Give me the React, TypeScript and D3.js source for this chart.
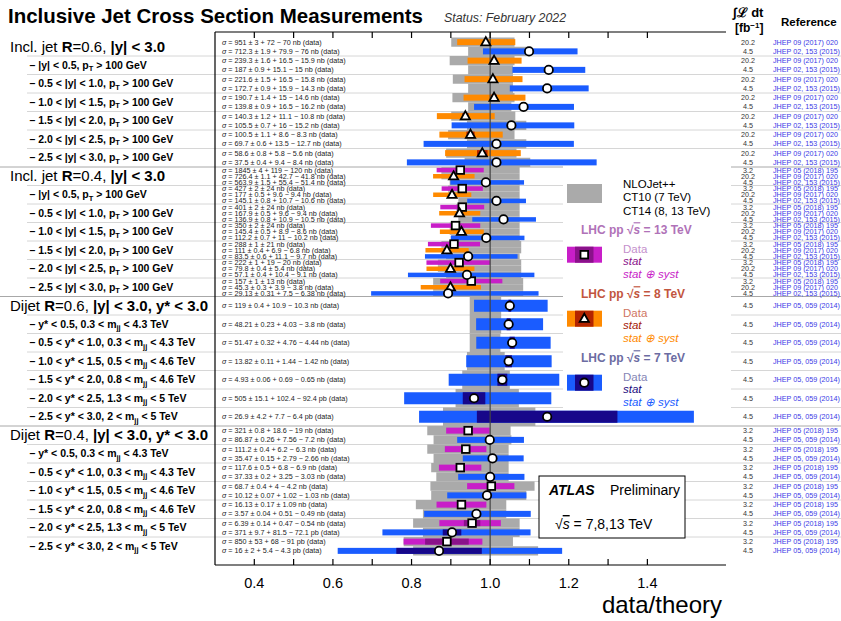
import React from 'react';
import * as d3 from 'd3';

// Each point: [data/theory, theory band low, theory band high, sigma, stat, syst up, syst down, unit]
type Point = [number, number, number, number, number, number, number, string];

const inclR06_8TeV: Point[] = [
  [0.989, 0.901, 1.062, 951, 3, 72, 70, 'nb'],
  [1.010, 0.897, 1.062, 239.3, 1.6, 16.5, 15.9, 'nb'],
  [1.007, 0.905, 1.058, 221.6, 1.5, 16.5, 15.8, 'nb'],
  [1.010, 0.904, 1.062, 190.7, 1.4, 15, 14.6, 'nb'],
  [0.937, 0.901, 1.064, 140.3, 1.2, 11.1, 10.8, 'nb'],
  [0.950, 0.893, 1.062, 100.5, 1.1, 8.6, 8.3, 'nb'],
  [0.980, 0.888, 1.067, 58.6, 0.8, 5.8, 5.6, 'nb'],
];
const inclR06_7TeV: Point[] = [
  [1.099, 0.944, 1.092, 712.3, 1.9, 79.9, 76, 'nb'],
  [1.149, 0.944, 1.058, 187, 0.9, 15.1, 15, 'nb'],
  [1.145, 0.944, 1.058, 172.7, 0.9, 15.9, 14.3, 'nb'],
  [1.085, 0.944, 1.054, 139.8, 0.9, 16.5, 16.2, 'nb'],
  [1.054, 0.941, 1.092, 105.5, 0.7, 16, 15.2, 'nb'],
  [1.016, 0.941, 1.092, 69.7, 0.6, 13.5, 12.7, 'nb'],
  [1.016, 0.935, 1.102, 37.5, 0.4, 9.4, 8.4, 'nb'],
];
const inclR04_13TeV: Point[] = [
  [0.924, 0.876, 1.075, 1845, 4, 119, 120, 'nb'],
  [0.929, 0.893, 1.075, 427, 2, 24, 24, 'nb'],
  [0.929, 0.914, 1.075, 401, 2, 24, 24, 'nb'],
  [0.912, 0.897, 1.075, 350, 2, 24, 24, 'nb'],
  [0.908, 0.876, 1.079, 288, 1, 21, 21, 'nb'],
  [0.921, 0.867, 1.079, 222, 1, 19, 20, 'nb'],
  [0.952, 0.855, 1.084, 157, 1, 13, 13, 'nb'],
];
const inclR04_8TeV: Point[] = [
  [0.907, 0.876, 1.075, 726.4, 1.1, 42.7, 41.8, 'nb'],
  [0.903, 0.893, 1.075, 177, 0.5, 9.6, 9.4, 'nb'],
  [0.922, 0.914, 1.075, 167.9, 0.5, 9.6, 9.4, 'nb'],
  [0.927, 0.897, 1.075, 145.4, 0.5, 8.9, 8.6, 'nb'],
  [0.890, 0.876, 1.079, 111, 0.4, 6.9, 6.8, 'nb'],
  [0.899, 0.867, 1.079, 79.8, 0.4, 5.4, 5.4, 'nb'],
  [0.899, 0.855, 1.084, 45.3, 0.3, 3.9, 3.8, 'nb'],
];
const inclR04_7TeV: Point[] = [
  [0.989, 0.897, 1.075, 563.9, 1.5, 55.4, 51.4, 'nb'],
  [1.016, 0.919, 1.075, 145.1, 0.8, 10.7, 10.6, 'nb'],
  [1.034, 0.919, 1.075, 136.9, 0.8, 10.9, 10.5, 'nb'],
  [0.990, 0.901, 1.075, 112.2, 0.7, 11, 10.2, 'nb'],
  [0.944, 0.888, 1.075, 83.5, 0.6, 11.1, 9.7, 'nb'],
  [0.941, 0.888, 1.079, 57.1, 0.4, 10.4, 9.1, 'nb'],
  [0.893, 0.855, 1.084, 29.13, 0.31, 7.5, 6.38, 'nb'],
];
const dijetR06_7TeV: Point[] = [
  [1.050, 0.948, 1.028, 119, 0.4, 10.9, 10.3, 'nb'],
  [1.047, 0.948, 1.028, 48.21, 0.23, 4.03, 3.8, 'nb'],
  [1.056, 0.948, 1.026, 51.47, 0.32, 4.76, 4.44, 'nb'],
  [1.047, 0.941, 1.037, 13.82, 0.11, 1.44, 1.42, 'nb'],
  [1.031, 0.929, 1.050, 4.93, 0.06, 0.69, 0.65, 'nb'],
  [0.959, 0.912, 1.073, 505, 15.1, 102.4, 92.4, 'pb'],
  [1.145, 0.880, 1.115, 26.9, 4.2, 7.7, 6.4, 'pb'],
];
const dijetR04_13TeV: Point[] = [
  [0.944, 0.840, 1.052, 321, 0.8, 18.6, 19, 'nb'],
  [0.938, 0.840, 1.047, 111.2, 0.4, 6.2, 6.3, 'nb'],
  [0.924, 0.850, 1.047, 117.6, 0.5, 6.8, 6.9, 'nb'],
  [1.003, 0.848, 1.113, 68.7, 0.4, 4, 4.2, 'nb'],
  [0.927, 0.811, 1.041, 16.13, 0.17, 1.09, 1.09, 'nb'],
  [0.954, 0.804, 1.075, 6.39, 0.14, 0.47, 0.54, 'nb'],
  [0.890, 0.780, 1.058, 850, 53, 68, 91, 'pb'],
];
const dijetR04_7TeV: Point[] = [
  [0.999, 0.856, 1.054, 86.87, 0.26, 7.56, 7.2, 'nb'],
  [1.006, 0.856, 1.047, 35.47, 0.15, 2.79, 2.66, 'nb'],
  [1.000, 0.863, 1.047, 37.33, 0.2, 3.25, 3.03, 'nb'],
  [0.992, 0.850, 1.092, 10.12, 0.07, 1.02, 1.03, 'nb'],
  [0.965, 0.829, 1.041, 3.57, 0.04, 0.51, 0.49, 'nb'],
  [0.903, 0.829, 1.075, 371, 9.7, 81.5, 72.1, 'pb'],
  [0.870, 0.804, 1.122, 16, 2, 5.4, 4.3, 'pb'],
];

const rapidityBins = ['|y| < 0.5', '0.5 < |y| < 1.0', '1.0 < |y| < 1.5', '1.5 < |y| < 2.0', '2.0 < |y| < 2.5', '2.5 < |y| < 3.0'];
const ystarBins = ['y* < 0.5', '0.5 < y* < 1.0', '1.0 < y* < 1.5', '1.5 < y* < 2.0', '2.0 < y* < 2.5', '2.5 < y* < 3.0'];
const mjjLow = ['0.3', '0.3', '0.5', '0.8', '1.3', '2'];
const mjjHigh = ['4.3', '4.3', '4.6', '4.6', '5', '5'];
const xTicks = [0.4, 0.5, 0.6, 0.7, 0.8, 0.9, 1.0, 1.1, 1.2, 1.3, 1.4];
const xTickLabels = [0.4, 0.6, 0.8, 1.0, 1.2, 1.4];

type Energy = '13' | '8' | '7';
interface Series { points: Point[]; energy: Energy; lumi: string; ref: string; }
interface Group { kind: 'incl' | 'dijet'; radius: string; series: Series[]; }

const groups: Group[] = [
  { kind: 'incl', radius: '0.6', series: [
    { points: inclR06_8TeV, energy: '8', lumi: '20.2', ref: 'JHEP 09 (2017) 020' },
    { points: inclR06_7TeV, energy: '7', lumi: '4.5', ref: 'JHEP 02, 153 (2015)' },
  ] },
  { kind: 'incl', radius: '0.4', series: [
    { points: inclR04_13TeV, energy: '13', lumi: '3.2', ref: 'JHEP 05 (2018) 195' },
    { points: inclR04_8TeV, energy: '8', lumi: '20.2', ref: 'JHEP 09 (2017) 020' },
    { points: inclR04_7TeV, energy: '7', lumi: '4.5', ref: 'JHEP 02, 153 (2015)' },
  ] },
  { kind: 'dijet', radius: '0.6', series: [
    { points: dijetR06_7TeV, energy: '7', lumi: '4.5', ref: 'JHEP 05, 059 (2014)' },
  ] },
  { kind: 'dijet', radius: '0.4', series: [
    { points: dijetR04_13TeV, energy: '13', lumi: '3.2', ref: 'JHEP 05 (2018) 195' },
    { points: dijetR04_7TeV, energy: '7', lumi: '4.5', ref: 'JHEP 05, 059 (2014)' },
  ] },
];

const palette: Record<Energy, { total: string; stat: string; head: string; data: string; statText: string }> = {
  '13': { total: '#c81ec8', stat: '#8a128a', head: '#b072b8', data: '#c490cc', statText: '#8a128a' },
  '8': { total: '#ff8a00', stat: '#b32400', head: '#c2553e', data: '#cf7562', statText: '#a42008' },
  '7': { total: '#1a5cff', stat: '#17078a', head: '#6c6ca2', data: '#8585b5', statText: '#1c0c80' },
};

const FONT = "'Liberation Sans', Arial, Helvetica, sans-serif";
const W = 841;
const H = 621;
const FRAME_TOP = 32;
const FRAME_BOTTOM = 565;

const x = d3.scaleLinear().domain([0.3, 1.6]).range([215, 726]);
const rowY = d3.scaleLinear().domain([0, 28]).range([37.5, 555.5]);

function fmtSigma(p: Point): string {
  const [, , , s, st, up, dn, unit] = p;
  const syst = up === dn ? `\u00b1 ${up}` : `+ ${up} \u2212 ${dn}`;
  return ` = ${s} \u00b1 ${st} ${syst} ${unit} (data)`;
}

function Marker({ energy, cx, cy }: { energy: Energy; cx: number; cy: number }) {
  if (energy === '13') {
    return <rect x={cx - 3.8} y={cy - 3.8} width={7.6} height={7.6} fill="#fff" stroke="#000" strokeWidth={1.8} />;
  }
  if (energy === '8') {
    return <path d={`M${cx},${cy - 5} L${cx + 4.6},${cy + 3.2} L${cx - 4.6},${cy + 3.2} Z`} fill="#fff" stroke="#000" strokeWidth={1.8} />;
  }
  return <circle cx={cx} cy={cy} r={4.2} fill="#fff" stroke="#000" strokeWidth={1.8} />;
}

function SqrtS({ bold }: { bold?: boolean }) {
  return (
    <>
      <tspan>{'\u221a'}</tspan>
      <tspan fontStyle="italic" textDecoration="overline" fontWeight={bold ? 'bold' : 'normal'}>s</tspan>
    </>
  );
}

export default function App() {
  const bars: React.ReactNode[] = [];
  const theory: React.ReactNode[] = [];
  const stats: React.ReactNode[] = [];
  const markers: React.ReactNode[] = [];
  const texts: React.ReactNode[] = [];

  groups.forEach((g, gi) => {
    const n = g.series.length;
    const barH = n === 1 ? 12 : n === 2 ? 6 : 4.5;
    g.series.forEach((s, si) => {
      s.points.forEach((p, ri) => {
        const row = gi * 7 + ri;
        const top = rowY(row + si / n);
        const bot = rowY(row + (si + 1) / n);
        const cy = (top + bot) / 2;
        const [r, thLo, thHi, sig, st, up, dn] = p;
        const relUp = Math.sqrt(st * st + up * up) / sig;
        const relDn = Math.sqrt(st * st + dn * dn) / sig;
        const relSt = st / sig;
        const col = palette[s.energy];
        const key = `${gi}-${si}-${ri}`;
        theory.push(<rect key={key} x={x(thLo)} y={top} width={x(thHi) - x(thLo)} height={bot - top} fill="#aaaaaa" />);
        bars.push(<rect key={key} x={x(r * (1 - relDn))} y={cy - barH / 2} width={x(r * (1 + relUp)) - x(r * (1 - relDn))} height={barH} fill={col.total} />);
        stats.push(<rect key={key} x={x(r * (1 - relSt))} y={cy - barH / 2} width={x(r * (1 + relSt)) - x(r * (1 - relSt))} height={barH} fill={col.stat} />);
        markers.push(<Marker key={key} energy={s.energy} cx={x(r)} cy={cy} />);
        texts.push(
          <g key={key} fontFamily={FONT} fontSize={7.2} fill="#222">
            <text x={222} y={cy} dy="0.35em"><tspan fontStyle="italic">{'\u03c3'}</tspan>{fmtSigma(p)}</text>
            <text x={748} y={cy} dy="0.35em" textAnchor="middle" fill="#333">{s.lumi}</text>
            <text x={773} y={cy} dy="0.35em" fill="#3a3ae6">{s.ref}</text>
          </g>
        );
      });
    });
  });

  // row labels on the left
  const rowLabels: React.ReactNode[] = [];
  groups.forEach((g, gi) => {
    const headY = rowY(gi * 7 + 0.5);
    rowLabels.push(
      <text key={`h${gi}`} x={10} y={headY} dy="0.32em" fontSize={15} fontFamily={FONT} fill="#000">
        <tspan>{g.kind === 'incl' ? 'Incl. jet ' : 'Dijet '}</tspan>
        <tspan fontWeight="bold">R</tspan>
        <tspan>{`=${g.radius}, `}</tspan>
        <tspan fontWeight="bold">{g.kind === 'incl' ? '|y| < 3.0' : '|y| < 3.0, y* < 3.0'}</tspan>
      </text>
    );
    for (let k = 0; k < 6; k++) {
      const cy = rowY(gi * 7 + k + 1.5);
      rowLabels.push(
        <text key={`s${gi}-${k}`} x={29.5} y={cy} dy="0.35em" fontSize={10.5} fontWeight="bold" fontFamily={FONT} fill="#000">
          {g.kind === 'incl' ? (
            <>
              <tspan>{`\u2013 ${rapidityBins[k]}, p`}</tspan>
              <tspan dy={2.5} fontSize={7.5}>T</tspan>
              <tspan dy={-2.5}>{' > 100 GeV'}</tspan>
            </>
          ) : (
            <>
              <tspan>{`\u2013 ${ystarBins[k]}, ${mjjLow[k]} < m`}</tspan>
              <tspan dy={2.5} fontSize={7.5}>jj</tspan>
              <tspan dy={-2.5}>{` < ${mjjHigh[k]} TeV`}</tspan>
            </>
          )}
        </text>
      );
    }
  });

  const separators = d3.range(1, 28).map((k) => {
    const yy = rowY(k);
    const major = k % 7 === 0;
    return <line key={k} x1={major ? 0 : 27} x2={W} y1={yy} y2={yy} stroke={major ? '#a8a8a8' : '#d6d6d6'} strokeWidth={1} />;
  });

  const legendHeads: { e: Energy; y: number }[] = [
    { e: '13', y: 230 },
    { e: '8', y: 294 },
    { e: '7', y: 358 },
  ];

  return (
    <svg width={W} height={H} viewBox={`0 0 ${W} ${H}`} style={{ position: 'absolute', left: 0, top: 0, background: '#fff' }}>
      <rect x={0} y={0} width={W} height={H} fill="#fff" />
      {/* title */}
      <text x={8} y={23} fontFamily={FONT} fontSize={21} fontWeight="bold" textLength={415} lengthAdjust="spacingAndGlyphs">Inclusive Jet Cross Section Measurements</text>
      <text x={444} y={22} fontFamily={FONT} fontSize={12} fontStyle="italic" fill="#333" textLength={122} lengthAdjust="spacingAndGlyphs">Status: February 2022</text>
      <text x={733} y={17} fontFamily={FONT} fontSize={13} fontWeight="bold">{'\u222b\u2112 dt'}</text>
      <text x={735} y={32} fontFamily={FONT} fontSize={12} fontWeight="bold">
        <tspan>[fb</tspan>
        <tspan dy={-4} fontSize={8}>{'\u22121'}</tspan>
        <tspan dy={4}>]</tspan>
      </text>
      <text x={781} y={26} fontFamily={FONT} fontSize={11.5} fontWeight="bold">Reference</text>

      {separators}

      {/* legend background */}
      <rect x={563} y={166} width={168} height={244} fill="#fff" />
      <rect x={539} y={476} width={146} height={62} fill="#fff" />

      {theory}
      {bars}
      {stats}
      <line x1={x(1)} x2={x(1)} y1={FRAME_TOP} y2={FRAME_BOTTOM} stroke="#444" strokeWidth={1.2} />
      {markers}
      {texts}
      {rowLabels}

      {/* frame and axis */}
      <line x1={215} x2={215} y1={FRAME_TOP} y2={FRAME_BOTTOM} stroke="#000" strokeWidth={1.2} />
      <line x1={215} x2={726} y1={FRAME_TOP} y2={FRAME_TOP} stroke="#000" strokeWidth={1.2} />
      <line x1={215} x2={726} y1={FRAME_BOTTOM} y2={FRAME_BOTTOM} stroke="#000" strokeWidth={1.2} />
      {xTicks.map((t) => (
        <g key={t}>
          <line x1={x(t)} x2={x(t)} y1={FRAME_TOP} y2={FRAME_TOP + 6} stroke="#000" strokeWidth={1.2} />
          <line x1={x(t)} x2={x(t)} y1={FRAME_BOTTOM} y2={FRAME_BOTTOM - 6} stroke="#000" strokeWidth={1.2} />
        </g>
      ))}
      {xTickLabels.map((t) => (
        <text key={t} x={x(t)} y={588} textAnchor="middle" fontFamily={FONT} fontSize={14.5}>{d3.format('.1f')(t)}</text>
      ))}
      <text x={722} y={613} textAnchor="end" fontFamily={FONT} fontSize={24}>data/theory</text>

      {/* legend */}
      <g fontFamily={FONT}>
        <rect x={567} y={184} width={35} height={19} fill="#aaaaaa" />
        <text x={623} y={187.5} fontSize={11.5}>NLOJet++</text>
        <text x={623} y={201} fontSize={11.5}>CT10 (7 TeV)</text>
        <text x={623} y={214.5} fontSize={11.5}>CT14 (8, 13 TeV)</text>
        {legendHeads.map(({ e, y }) => {
          const c = palette[e];
          const boxTop = y + 16.7;
          return (
            <g key={e}>
              <text x={581} y={y} dy="0.35em" fontSize={12} fontWeight="bold" fill={c.head}>
                <tspan>{'LHC pp  '}</tspan>
                <SqrtS bold />
                <tspan>{` = ${e} TeV`}</tspan>
              </text>
              <rect x={567} y={boxTop} width={35} height={16} fill={c.total} />
              <rect x={575} y={boxTop} width={18.5} height={16} fill={c.stat} />
              <Marker energy={e} cx={584.3} cy={boxTop + 8} />
              <text x={623} y={y + 18.5} dy="0.35em" fontSize={11.5} fill={c.data}>Data</text>
              <text x={623} y={y + 31} dy="0.35em" fontSize={11.5} fontStyle="italic" fill={c.statText}>stat</text>
              <text x={623} y={y + 43.5} dy="0.35em" fontSize={11.5} fontStyle="italic" fill={c.total}>{'stat \u2295 syst'}</text>
            </g>
          );
        })}
      </g>

      {/* experiment box */}
      <g fontFamily={FONT}>
        <rect x={539} y={476} width={146} height={62} fill="none" stroke="#000" strokeWidth={1} />
        <text x={549} y={495} fontSize={14} fontWeight="bold" fontStyle="italic">ATLAS</text>
        <text x={610} y={495} fontSize={14}>Preliminary</text>
        <text x={555} y={529} fontSize={14}>
          <SqrtS />
          <tspan>{' = 7,8,13 TeV'}</tspan>
        </text>
      </g>
    </svg>
  );
}
